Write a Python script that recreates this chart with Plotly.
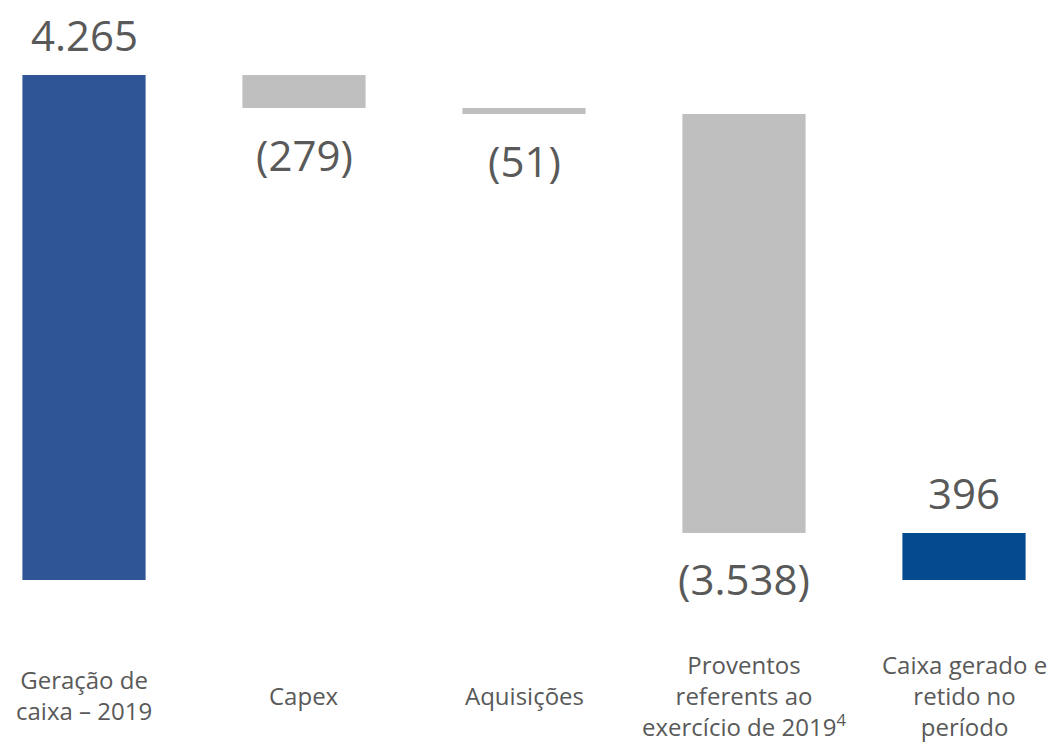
import plotly.graph_objects as go

categories = ["Geração de<br>caixa – 2019", "Capex", "Aquisições",
              "Proventos<br>referents ao<br>exercício de 2019<sup>4</sup>",
              "Caixa gerado e<br>retido no<br>período"]
values = [4265, -279, -51, -3538, 396]
measures = ["absolute", "relative", "relative", "relative", "absolute"]
value_labels = ["4.265", "(279)", "(51)", "(3.538)", "396"]
colors = ["#2F5597", "#BFBFBF", "#BFBFBF", "#BFBFBF", "#034A8F"]

# compute bases for floating bars
bases = []
running = 0
for v, m in zip(values, measures):
    if m == "absolute":
        bases.append(0)
        running = v
    else:
        bases.append(running)
        running += v

xs = list(range(len(categories)))

fig = go.Figure()
fig.add_trace(go.Bar(
    x=xs, y=values, base=bases,
    marker=dict(color=colors, line=dict(width=0)),
    width=0.56, hoverinfo="skip", showlegend=False,
))

TEXT = "#595959"
FONT = "Open Sans"

for i, (v, b, lab) in enumerate(zip(values, bases, value_labels)):
    end = b + v
    if v >= 0:
        fig.add_annotation(x=i, y=end, xref="x", yref="y", text=lab,
                           showarrow=False, yanchor="middle", yshift=41,
                           font=dict(family=FONT, size=42, color=TEXT))
    else:
        fig.add_annotation(x=i, y=end, xref="x", yref="y", text=lab,
                           showarrow=False, yanchor="middle", yshift=-46,
                           font=dict(family=FONT, size=42, color=TEXT))

for i, c in enumerate(categories):
    fig.add_annotation(x=i, y=(749 - 695) / 749, xref="x", yref="paper", text=c,
                       showarrow=False, yanchor="middle", xanchor="center",
                       align="center",
                       font=dict(family=FONT, size=24, color=TEXT))

px_per_unit = 505 / 4265
y_top = 4265 + 75 / px_per_unit
y_bot = -(749 - 580) / px_per_unit
x0 = -84 / 220
x1 = x0 + 1060 / 220

fig.update_layout(
    width=1060, height=749,
    margin=dict(l=0, r=0, t=0, b=0),
    paper_bgcolor="white", plot_bgcolor="white",
    xaxis=dict(range=[x0, x1], visible=False, fixedrange=True),
    yaxis=dict(range=[y_bot, y_top], visible=False, fixedrange=True),
    bargap=0.44,
)

fig.write_html("out.html", config={"displayModeBar": False},
               post_script="document.body.style.margin='0';document.body.style.overflow='hidden';")
